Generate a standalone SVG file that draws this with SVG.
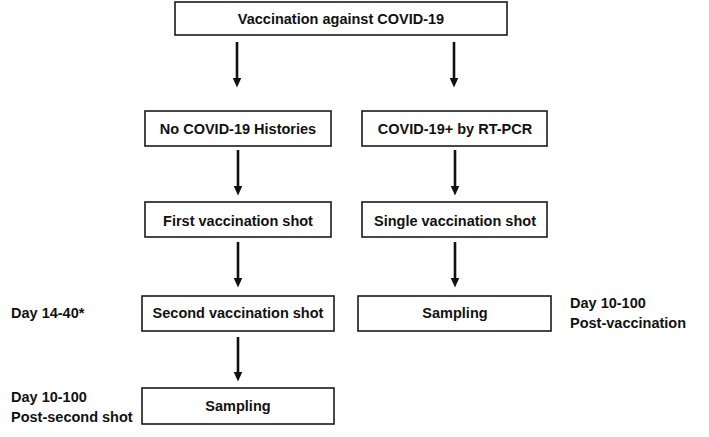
<svg xmlns="http://www.w3.org/2000/svg" width="709" height="437" viewBox="0 0 709 437">
<style>
.box{fill:#fff;stroke:#1a1a1a;stroke-width:1.6}
.t{font-family:"Liberation Sans",Arial,sans-serif;font-weight:bold;font-size:14.5px;fill:#111}
.c{text-anchor:middle}
.ar{stroke:#111;stroke-width:2.6;fill:none;marker-end:url(#ah)}
</style>
<defs>
<marker id="ah" markerUnits="userSpaceOnUse" markerWidth="10" markerHeight="10" viewBox="0 0 10 10" refX="0.5" refY="5" orient="auto">
<path d="M0,0.5 L10,5 L0,9.5 Z" fill="#111"/>
</marker>
</defs>
<rect width="709" height="437" fill="#fff"/>
<g id="connectors">
<path class="ar" d="M237,42 V78"/>
<path class="ar" d="M454,42 V78"/>
<path class="ar" d="M238,150 V186"/>
<path class="ar" d="M455,150 V186"/>
<path class="ar" d="M238,242 V278"/>
<path class="ar" d="M455,242 V278"/>
<path class="ar" d="M238,337 V372"/>
</g>
<g id="n-top"><rect class="box" x="175" y="2" width="332" height="33"/><text class="t c" x="341" y="24">Vaccination against COVID-19</text></g>
<g id="n-nohist"><rect class="box" x="145" y="111" width="186" height="35"/><text class="t c" x="238" y="134">No COVID-19 Histories</text></g>
<g id="n-pcr"><rect class="box" x="362" y="111" width="185" height="35"/><text class="t c" x="455" y="134">COVID-19+ by RT-PCR</text></g>
<g id="n-first"><rect class="box" x="145" y="202" width="186" height="35"/><text class="t c" x="238" y="226">First vaccination shot</text></g>
<g id="n-single"><rect class="box" x="362" y="202" width="185" height="35"/><text class="t c" x="455" y="226">Single vaccination shot</text></g>
<g id="n-second"><rect class="box" x="142" y="296" width="192" height="35"/><text class="t c" x="238" y="318">Second vaccination shot</text></g>
<g id="n-samp-r"><rect class="box" x="358" y="296" width="193" height="35"/><text class="t c" x="455" y="318">Sampling</text></g>
<g id="n-samp-l"><rect class="box" x="142" y="388" width="192" height="36"/><text class="t c" x="238" y="411">Sampling</text></g>
<g id="labels">
<text class="t" x="11" y="318">Day 14-40*</text>
<text class="t" x="11" y="402">Day 10-100</text>
<text class="t" x="11" y="422">Post-second shot</text>
<text class="t" x="570" y="308">Day 10-100</text>
<text class="t" x="570" y="328">Post-vaccination</text>
</g>
</svg>
